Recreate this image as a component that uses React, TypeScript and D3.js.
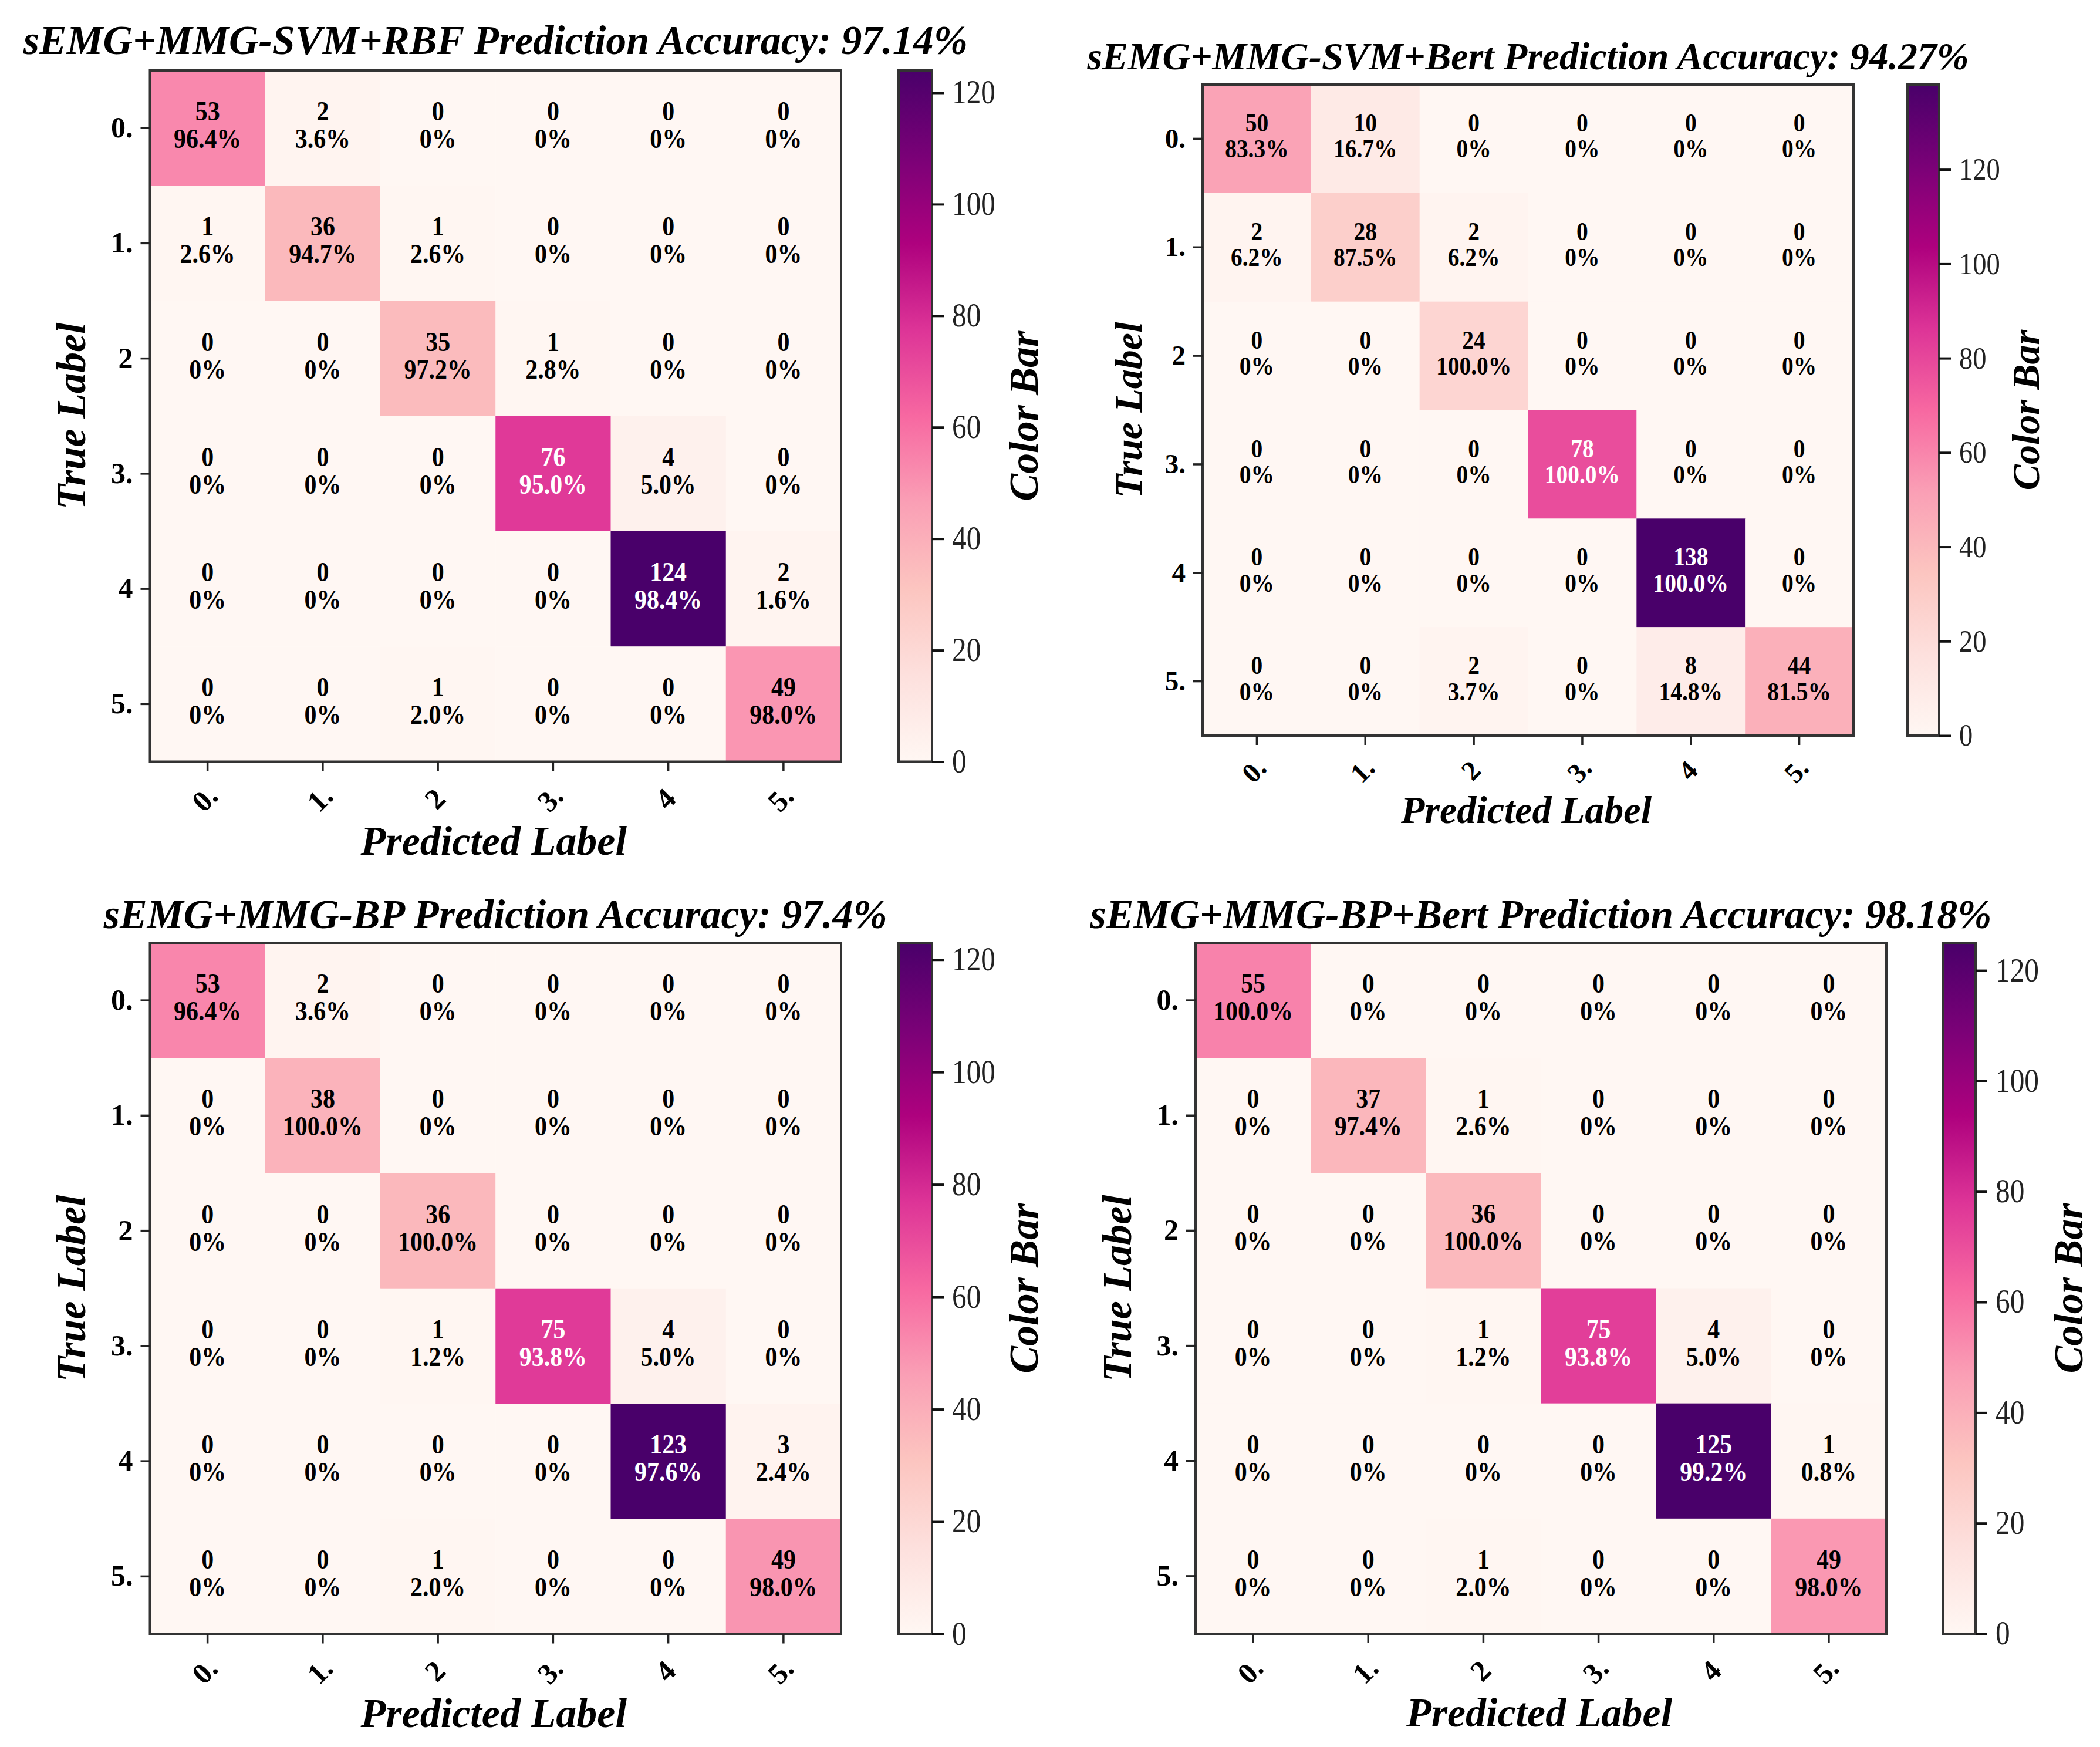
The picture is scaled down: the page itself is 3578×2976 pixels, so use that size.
import { useEffect, useRef } from "react";
import * as d3 from "d3";

const WIDTH = 3578;
const HEIGHT = 2976;
const FONT = "'Liberation Serif', 'Times New Roman', serif";

const classLabels = ["0.", "1.", "2", "3.", "4", "5."];

const titleRbf = "sEMG+MMG-SVM+RBF Prediction Accuracy: 97.14%";
const countsRbf = [
  [53, 2, 0, 0, 0, 0],
  [1, 36, 1, 0, 0, 0],
  [0, 0, 35, 1, 0, 0],
  [0, 0, 0, 76, 4, 0],
  [0, 0, 0, 0, 124, 2],
  [0, 0, 1, 0, 0, 49],
];
const percentRbf = [
  [96.4, 3.6, 0, 0, 0, 0],
  [2.6, 94.7, 2.6, 0, 0, 0],
  [0, 0, 97.2, 2.8, 0, 0],
  [0, 0, 0, 95.0, 5.0, 0],
  [0, 0, 0, 0, 98.4, 1.6],
  [0, 0, 2.0, 0, 0, 98.0],
];

const titleSvmBert = "sEMG+MMG-SVM+Bert Prediction Accuracy: 94.27%";
const countsSvmBert = [
  [50, 10, 0, 0, 0, 0],
  [2, 28, 2, 0, 0, 0],
  [0, 0, 24, 0, 0, 0],
  [0, 0, 0, 78, 0, 0],
  [0, 0, 0, 0, 138, 0],
  [0, 0, 2, 0, 8, 44],
];
const percentSvmBert = [
  [83.3, 16.7, 0, 0, 0, 0],
  [6.2, 87.5, 6.2, 0, 0, 0],
  [0, 0, 100.0, 0, 0, 0],
  [0, 0, 0, 100.0, 0, 0],
  [0, 0, 0, 0, 100.0, 0],
  [0, 0, 3.7, 0, 14.8, 81.5],
];

const titleBp = "sEMG+MMG-BP Prediction Accuracy: 97.4%";
const countsBp = [
  [53, 2, 0, 0, 0, 0],
  [0, 38, 0, 0, 0, 0],
  [0, 0, 36, 0, 0, 0],
  [0, 0, 1, 75, 4, 0],
  [0, 0, 0, 0, 123, 3],
  [0, 0, 1, 0, 0, 49],
];
const percentBp = [
  [96.4, 3.6, 0, 0, 0, 0],
  [0, 100.0, 0, 0, 0, 0],
  [0, 0, 100.0, 0, 0, 0],
  [0, 0, 1.2, 93.8, 5.0, 0],
  [0, 0, 0, 0, 97.6, 2.4],
  [0, 0, 2.0, 0, 0, 98.0],
];

const titleBpBert = "sEMG+MMG-BP+Bert Prediction Accuracy: 98.18%";
const countsBpBert = [
  [55, 0, 0, 0, 0, 0],
  [0, 37, 1, 0, 0, 0],
  [0, 0, 36, 0, 0, 0],
  [0, 0, 1, 75, 4, 0],
  [0, 0, 0, 0, 125, 1],
  [0, 0, 1, 0, 0, 49],
];
const percentBpBert = [
  [100.0, 0, 0, 0, 0, 0],
  [0, 97.4, 2.6, 0, 0, 0],
  [0, 0, 100.0, 0, 0, 0],
  [0, 0, 1.2, 93.8, 5.0, 0],
  [0, 0, 0, 0, 99.2, 0.8],
  [0, 0, 2.0, 0, 0, 98.0],
];

const colorbarTicks = [0, 20, 40, 60, 80, 100, 120];

// left, top, size of the heatmap; left of the colorbar and where its label sits
const panels = [
  { title: titleRbf, counts: countsRbf, percent: percentRbf, x: 255.5, y: 120, size: 1177.5, titleGap: 28, barX: 1531, barW: 57, barLabelX: 1768, id: "a" },
  { title: titleSvmBert, counts: countsSvmBert, percent: percentSvmBert, x: 2049, y: 144, size: 1109, titleGap: 26, barX: 3250, barW: 54, barLabelX: 3474, id: "b" },
  { title: titleBp, counts: countsBp, percent: percentBp, x: 255.5, y: 1606, size: 1177.5, titleGap: 25, barX: 1531, barW: 57, barLabelX: 1768, id: "c" },
  { title: titleBpBert, counts: countsBpBert, percent: percentBpBert, x: 2037, y: 1606, size: 1177, titleGap: 25, barX: 3311, barW: 55, barLabelX: 3548, id: "d" },
];

const colorFor = (max: number) =>
  d3
    .scaleLinear<string>()
    .domain(d3.schemeRdPu[9].map((_, i) => (i / 8) * max))
    .range(d3.schemeRdPu[9]);

const drawPanel = (
  svg: d3.Selection<SVGSVGElement, unknown, null, undefined>,
  p: (typeof panels)[number]
) => {
  const k = p.size / 1176;
  const g = svg.append("g").attr("transform", `translate(${p.x},${p.y})`);
  const maxCount = d3.max(p.counts.flat()) as number;
  const color = colorFor(maxCount);

  const band = d3.scaleBand<number>().domain(d3.range(6)).range([0, p.size]);
  const cw = band.bandwidth();

  const cells = p.counts.flatMap((row, r) =>
    row.map((v, c) => ({ r, c, v, pct: p.percent[r][c] }))
  );

  g.selectAll("rect.cell")
    .data(cells)
    .join("rect")
    .attr("class", "cell")
    .attr("x", (d) => band(d.c) as number)
    .attr("y", (d) => band(d.r) as number)
    .attr("width", cw + 0.5)
    .attr("height", cw + 0.5)
    .attr("fill", (d) => color(d.v));

  // the digits in the reference are taller than they are wide, hence the scale
  const cellLabel = (
    cls: string,
    offset: number,
    text: (d: (typeof cells)[number]) => string
  ) =>
    g
      .selectAll(`text.${cls}`)
      .data(cells)
      .join("text")
      .attr("class", cls)
      .attr("text-anchor", "middle")
      .attr("font-family", FONT)
      .attr("font-weight", "bold")
      .attr("font-size", 46 * k)
      .attr("fill", (d) => (d.v > maxCount / 2 ? "#ffffff" : "#000000"))
      .attr(
        "transform",
        (d) =>
          `translate(${(band(d.c) as number) + cw / 2},${
            (band(d.r) as number) + cw / 2 + offset * k
          }) scale(0.91,1)`
      )
      .text(text);
  cellLabel("count", -13, (d) => `${d.v}`);
  cellLabel("pct", 34, (d) => (d.pct === 0 ? "0%" : `${d.pct.toFixed(1)}%`));

  g.append("rect")
    .attr("width", p.size)
    .attr("height", p.size)
    .attr("fill", "none")
    .attr("stroke", "#333")
    .attr("stroke-width", 4);

  const labelScale = d3.scaleBand<string>().domain(classLabels).range([0, p.size]);

  const yAxis = g.append("g").call(d3.axisLeft(labelScale).tickSize(16).tickPadding(13));
  yAxis.select(".domain").remove();
  yAxis.selectAll(".tick line").attr("stroke", "#222").attr("stroke-width", 3.5);
  yAxis
    .selectAll(".tick text")
    .attr("font-family", FONT)
    .attr("font-weight", "bold")
    .attr("font-size", 50 * k)
    .attr("fill", "#000");

  const xAxis = g
    .append("g")
    .attr("transform", `translate(0,${p.size})`)
    .call(d3.axisBottom(labelScale).tickSize(16).tickPadding(0));
  xAxis.select(".domain").remove();
  xAxis.selectAll(".tick line").attr("stroke", "#222").attr("stroke-width", 3.5);
  xAxis
    .selectAll(".tick text")
    .attr("font-family", FONT)
    .attr("font-weight", "bold")
    .attr("font-size", 50 * k)
    .attr("fill", "#000")
    .attr("dy", null)
    .attr("y", null)
    .attr("text-anchor", "middle")
    .attr("dominant-baseline", "central")
    .attr("transform", `translate(-5,${63 * k}) rotate(-45)`);

  const label = (text: string, x: number, y: number, size: number, rotate = 0) =>
    svg
      .append("text")
      .attr("transform", `translate(${x},${y}) rotate(${rotate})`)
      .attr("text-anchor", "middle")
      .attr("font-family", FONT)
      .attr("font-weight", "bold")
      .attr("font-style", "italic")
      .attr("font-size", size)
      .attr("fill", "#000")
      .text(text);

  const cx = p.x + p.size / 2;
  const cy = p.y + p.size / 2;
  label(p.title, cx, p.y - p.titleGap, 69.8 * k);
  label("Predicted Label", cx - 3, p.y + p.size + 158 * k, 70 * k);
  label("True Label", p.x - 110 * k, cy, 70 * k, -90);
  label("Color Bar", p.barLabelX, cy, 70 * k, -90);

  // colorbar
  const barScale = d3.scaleLinear().domain([0, maxCount]).range([p.y + p.size, p.y]);
  const gradId = `bar_${p.id}`;
  const grad = svg
    .append("defs")
    .append("linearGradient")
    .attr("id", gradId)
    .attr("x1", 0)
    .attr("y1", 1)
    .attr("x2", 0)
    .attr("y2", 0);
  grad
    .selectAll("stop")
    .data(d3.schemeRdPu[9])
    .join("stop")
    .attr("offset", (_, i) => i / 8)
    .attr("stop-color", (d) => d);
  svg
    .append("rect")
    .attr("x", p.barX)
    .attr("y", p.y)
    .attr("width", p.barW)
    .attr("height", p.size)
    .attr("fill", `url(#${gradId})`)
    .attr("stroke", "#333")
    .attr("stroke-width", 4);

  const barAxis = svg
    .append("g")
    .attr("transform", `translate(${p.barX + p.barW},0)`)
    .call(
      d3
        .axisRight(barScale)
        .tickValues(colorbarTicks.filter((t) => t <= maxCount))
        .tickSize(20)
        .tickPadding(14)
    );
  barAxis.select(".domain").remove();
  barAxis.selectAll(".tick line").attr("stroke", "#111").attr("stroke-width", 4);
  barAxis
    .selectAll(".tick text")
    .attr("font-family", FONT)
    .attr("font-size", 56 * k)
    .attr("fill", "#222")
    .attr("x", null)
    .attr("transform", `translate(${34},0) scale(0.88,1)`);
};

export default function App() {
  const ref = useRef<SVGSVGElement>(null);
  useEffect(() => {
    const svg = d3.select(ref.current as SVGSVGElement);
    svg.selectAll("*").remove();
    panels.forEach((p) => drawPanel(svg, p));
  }, []);
  return (
    <svg
      ref={ref}
      width={WIDTH}
      height={HEIGHT}
      style={{ position: "absolute", left: 0, top: 0, background: "#fff" }}
    />
  );
}
